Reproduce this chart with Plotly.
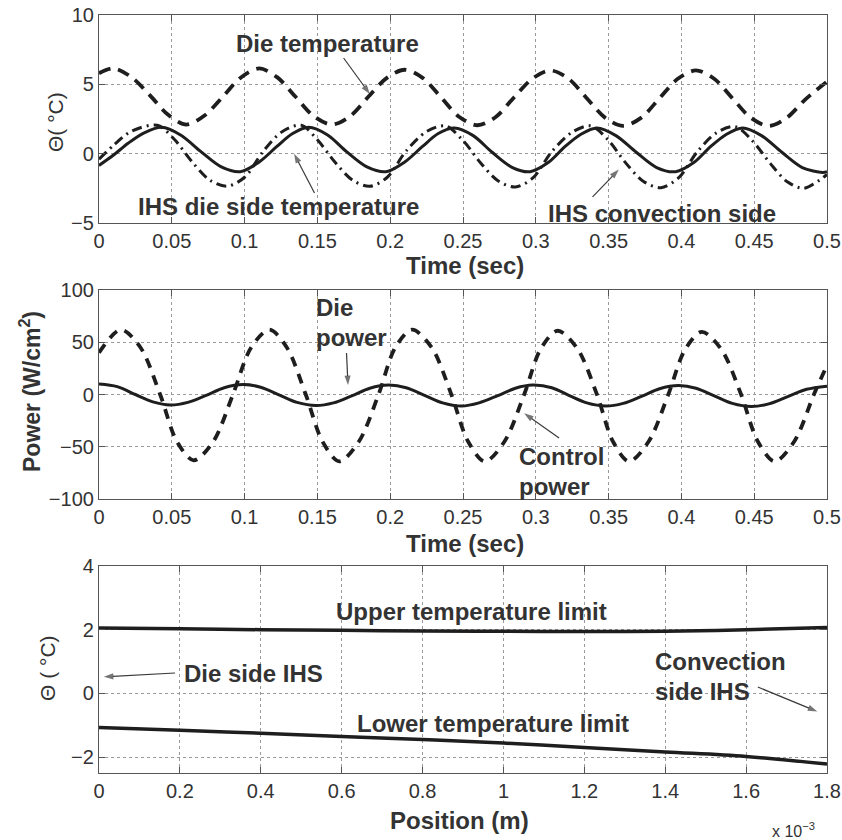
import plotly.graph_objects as go

# ---------------- data: panel 1 (temperatures vs time) ----------------
die_t = [0, 0.01, 0.0225, 0.035, 0.0475, 0.06, 0.0725, 0.085, 0.0975, 0.11, 0.1225, 0.135, 0.1475,
         0.16, 0.1725, 0.185, 0.1975, 0.21, 0.2225, 0.235, 0.2475, 0.26, 0.2725, 0.285, 0.2975,
         0.31, 0.3225, 0.335, 0.3475, 0.36, 0.3725, 0.385, 0.3975, 0.41, 0.4225, 0.435, 0.4475,
         0.46, 0.4725, 0.485, 0.5]
die_temp = [5.8, 6.15, 5.5, 4.2, 2.8, 2.1, 2.75, 4.1, 5.5, 6.15, 5.5, 4.1, 2.7,
            2.1, 2.7, 4.1, 5.45, 6.05, 5.45, 4.05, 2.65, 2.05, 2.65, 4.05, 5.4,
            6.0, 5.4, 4.0, 2.6, 2.0, 2.6, 4.0, 5.4, 6.0, 5.4, 4.0, 2.6,
            2.0, 2.6, 3.9, 5.2]

ihs_die_t = [0, 0.01, 0.02, 0.031, 0.043, 0.056, 0.07, 0.084, 0.097, 0.11, 0.122, 0.133, 0.144,
             0.157, 0.17, 0.184, 0.197, 0.21, 0.222, 0.233, 0.244, 0.257, 0.27, 0.284, 0.296,
             0.309, 0.32, 0.331, 0.342, 0.355, 0.369, 0.383, 0.396, 0.409, 0.42, 0.431, 0.442,
             0.455, 0.469, 0.483, 0.497, 0.5]
ihs_die_temp = [-0.85, -0.1, 0.75, 1.5, 1.9, 1.35, 0.15, -0.95, -1.3, -0.6, 0.5, 1.45, 1.9,
                1.35, 0.15, -0.95, -1.3, -0.6, 0.5, 1.45, 1.85, 1.3, 0.1, -1.0, -1.3,
                -0.6, 0.5, 1.4, 1.85, 1.3, 0.1, -1.0, -1.3, -0.6, 0.5, 1.4, 1.85,
                1.3, 0.1, -1.0, -1.35, -1.3]

ihs_conv_t = [0, 0.011, 0.022, 0.04, 0.052, 0.064, 0.076, 0.088, 0.1, 0.113, 0.126, 0.139, 0.15,
              0.162, 0.174, 0.186, 0.198, 0.211, 0.225, 0.238, 0.25, 0.262, 0.274, 0.286, 0.298,
              0.311, 0.325, 0.338, 0.35, 0.362, 0.374, 0.386, 0.398, 0.411, 0.424, 0.437, 0.449,
              0.461, 0.473, 0.484, 0.495, 0.5]
ihs_conv_temp = [-0.4, 0.7, 1.6, 2.05, 1.0, -0.6, -1.9, -2.35, -1.7, 0.2, 1.6, 2.05, 1.0,
                 -0.6, -1.9, -2.35, -1.7, 0.2, 1.6, 2.0, 0.95, -0.65, -1.95, -2.4, -1.75,
                 0.15, 1.55, 2.0, 0.95, -0.7, -2.0, -2.45, -1.75, 0.15, 1.5, 1.95, 0.9,
                 -0.7, -2.05, -2.5, -1.9, -1.5]

# ---------------- data: panel 2 (power vs time) ----------------
die_pow_t = [0, 0.0125, 0.025, 0.037, 0.049, 0.061, 0.074, 0.086, 0.099, 0.111, 0.124, 0.136, 0.149,
             0.161, 0.174, 0.186, 0.199, 0.211, 0.224, 0.236, 0.249, 0.261, 0.274, 0.286, 0.298,
             0.311, 0.323, 0.335, 0.348, 0.36, 0.373, 0.385, 0.398, 0.41, 0.423, 0.435, 0.448,
             0.46, 0.473, 0.486, 0.5]
die_power = [10, 7.5, 0, -7, -10, -7.5, -0.5, 6.5, 9.5, 7, -0.5, -7.5, -10.5,
             -8, -1, 6, 9, 6.5, -1, -8, -11, -8, -1, 6, 9,
             6.5, -1, -8, -11, -8.5, -1.5, 5.5, 8.5, 6, -1.5, -8.5, -11.5,
             -9, -2, 5, 8]

ctrl_t = [0, 0.015, 0.0285, 0.042, 0.0535, 0.065, 0.0785, 0.092, 0.1045, 0.117, 0.129, 0.142, 0.1535,
          0.165, 0.1785, 0.192, 0.2035, 0.215, 0.2285, 0.242, 0.2535, 0.265, 0.2785, 0.292, 0.3035,
          0.315, 0.3285, 0.342, 0.353, 0.364, 0.3775, 0.391, 0.4025, 0.414, 0.4275, 0.441, 0.4525,
          0.464, 0.4775, 0.491, 0.5]
ctrl_power = [40, 62, 45, 0, -45, -63, -45, 0, 45, 62, 45, 0, -45,
              -64, -45, 0, 45, 62, 45, 0, -45, -64, -45, 0, 44,
              61, 44, 0, -45, -64, -45, 0, 43, 60, 43, 0, -45,
              -64, -45, 0, 28]

# ---------------- data: panel 3 (temperature limits vs position) ----------------
position = [0, 0.2e-3, 0.4e-3, 0.6e-3, 0.8e-3, 1.0e-3, 1.2e-3, 1.4e-3, 1.6e-3, 1.8e-3]
upper_limit = [2.05, 2.03, 2.0, 1.98, 1.96, 1.95, 1.94, 1.95, 2.0, 2.07]
lower_limit = [-1.07, -1.16, -1.25, -1.35, -1.45, -1.56, -1.7, -1.84, -1.98, -2.22]

time_ticks = [0, 0.05, 0.1, 0.15, 0.2, 0.25, 0.3, 0.35, 0.4, 0.45, 0.5]
time_labels = ["0", "0.05", "0.1", "0.15", "0.2", "0.25", "0.3", "0.35", "0.4", "0.45", "0.5"]
pos_ticks = [0, 0.2e-3, 0.4e-3, 0.6e-3, 0.8e-3, 1.0e-3, 1.2e-3, 1.4e-3, 1.6e-3, 1.8e-3]
pos_labels = ["0", "0.2", "0.4", "0.6", "0.8", "1", "1.2", "1.4", "1.6", "1.8"]

LINE = "#1e1e1e"
TXT = "#333333"
FONT = "Liberation Sans, Arial, sans-serif"

fig = go.Figure()

# panel 1
fig.add_trace(go.Scatter(x=die_t, y=die_temp, mode="lines", xaxis="x", yaxis="y", hoverinfo="skip",
                         line=dict(color=LINE, width=3.8, dash="12px,8px", shape="spline", smoothing=0.9)))
fig.add_trace(go.Scatter(x=ihs_conv_t, y=ihs_conv_temp, mode="lines", xaxis="x", yaxis="y", hoverinfo="skip",
                         line=dict(color=LINE, width=3, dash="10px,5px,2px,5px", shape="spline", smoothing=0.9)))
fig.add_trace(go.Scatter(x=ihs_die_t, y=ihs_die_temp, mode="lines", xaxis="x", yaxis="y", hoverinfo="skip",
                         line=dict(color=LINE, width=3, shape="spline", smoothing=0.9)))
# panel 2
fig.add_trace(go.Scatter(x=ctrl_t, y=ctrl_power, mode="lines", xaxis="x2", yaxis="y2", hoverinfo="skip",
                         line=dict(color=LINE, width=3.8, dash="10px,8px", shape="spline", smoothing=0.9)))
fig.add_trace(go.Scatter(x=die_pow_t, y=die_power, mode="lines", xaxis="x2", yaxis="y2", hoverinfo="skip",
                         line=dict(color=LINE, width=3, shape="spline", smoothing=0.9)))
# panel 3
fig.add_trace(go.Scatter(x=position, y=upper_limit, mode="lines", xaxis="x3", yaxis="y3", hoverinfo="skip",
                         line=dict(color=LINE, width=3.5, shape="spline")))
fig.add_trace(go.Scatter(x=position, y=lower_limit, mode="lines", xaxis="x3", yaxis="y3", hoverinfo="skip",
                         line=dict(color=LINE, width=3.5, shape="spline")))


def arrow(xh, yh, xt, yt, xa, ya):
    """thin pointer line from a label (tail) to a curve (head), with an arrow head marker"""
    fig.add_trace(go.Scatter(x=[xt, xh], y=[yt, yh], mode="lines+markers", xaxis=xa, yaxis=ya,
                             hoverinfo="skip", line=dict(color="#3a3a3a", width=1.2),
                             marker=dict(symbol="arrow", size=[0, 10], angleref="previous",
                                         color="#3a3a3a", line=dict(width=0))))


# pointer arrows (head point, tail point)
arrow(0.186, 4.3, 0.168, 6.9, "x", "y")
arrow(0.134, 0.0, 0.148, -2.83, "x", "y")
arrow(0.357, -1.15, 0.339, -3.12, "x", "y")
arrow(0.171, 9.0, 0.170, 39.7, "x2", "y2")
arrow(0.292, -18.0, 0.316, -41.6, "x2", "y2")
arrow(0.012e-3, 0.52, 0.188e-3, 0.64, "x3", "y3")
arrow(1.776e-3, -0.57, 1.629e-3, 0.2, "x3", "y3")

XD = [99 / 842, 827 / 842]
common_ax = dict(showline=True, linecolor="#555555", linewidth=1.2, mirror="ticks", ticks="inside",
                 ticklen=6, tickcolor="#555555", showgrid=True, gridcolor="#9a9a9a", griddash="dot",
                 gridwidth=1, zeroline=False, tickfont=dict(size=20, color=TXT, family=FONT),
                 automargin=False)

fig.update_layout(
    width=842, height=840, paper_bgcolor="white", plot_bgcolor="white",
    margin=dict(l=0, r=0, t=0, b=0), showlegend=False,
    font=dict(family=FONT, color=TXT),
    xaxis=dict(domain=XD, range=[0, 0.5], tickvals=time_ticks, ticktext=time_labels, anchor="y", **common_ax),
    yaxis=dict(domain=[1 - 223 / 840, 1 - 15 / 840], range=[-5, 10], tickvals=[-5, 0, 5, 10], anchor="x", **common_ax),
    xaxis2=dict(domain=XD, range=[0, 0.5], tickvals=time_ticks, ticktext=time_labels, anchor="y2", **common_ax),
    yaxis2=dict(domain=[1 - 499 / 840, 1 - 290 / 840], range=[-100, 100], tickvals=[-100, -50, 0, 50, 100], anchor="x2", **common_ax),
    xaxis3=dict(domain=XD, range=[0, 1.8e-3], tickvals=pos_ticks, ticktext=pos_labels, anchor="y3", **common_ax),
    yaxis3=dict(domain=[1 - 773 / 840, 1 - 566 / 840], range=[-2.5, 4], tickvals=[-2, 0, 2, 4], anchor="x3", **common_ax),
)

B = dict(family=FONT, size=24, color=TXT)
ann = []


def txt(x, y, s, xr, yr, xanchor="center", font=B):
    ann.append(dict(x=x, y=y, xref=xr, yref=yr, text=s, showarrow=False, xanchor=xanchor,
                    yanchor="middle", font=font))


# panel 1 labels
txt(0.157, 7.98, "<b>Die temperature</b>", "x", "y")
txt(0.123, -3.84, "<b>IHS die side temperature</b>", "x", "y")
txt(0.387, -4.28, "<b>IHS convection side</b>", "x", "y")
# panel 2 labels (two lines each)
txt(0.148, 82.8, "<b>Die</b>", "x2", "y2", xanchor="left")
txt(0.148, 54.1, "<b>power</b>", "x2", "y2", xanchor="left")
txt(0.287, -59.8, "<b>Control</b>", "x2", "y2", xanchor="left")
txt(0.287, -88.5, "<b>power</b>", "x2", "y2", xanchor="left")
# panel 3 labels
txt(0.92e-3, 2.56, "<b>Upper temperature limit</b>", "x3", "y3")
txt(0.205e-3, 0.64, "<b>Die side IHS</b>", "x3", "y3", xanchor="left")
txt(0.974e-3, -0.93, "<b>Lower temperature limit</b>", "x3", "y3")
txt(1.370e-3, 0.986, "<b>Convection</b>", "x3", "y3", xanchor="left")
txt(1.370e-3, 0.044, "<b>side IHS</b>", "x3", "y3", xanchor="left")

# axis titles
R = dict(family=FONT, size=21, color=TXT)
ann.append(dict(x=55 / 842, y=1 - 122 / 840, xref="paper", yref="paper", text="Θ( °C)", showarrow=False,
                textangle=-90, font=R, xanchor="center", yanchor="middle"))
ann.append(dict(x=30 / 842, y=1 - 392 / 840, xref="paper", yref="paper", text="<b>Power (W/cm<sup>2</sup>)</b>",
                showarrow=False, textangle=-90, font=dict(family=FONT, size=23, color=TXT),
                xanchor="center", yanchor="middle"))
ann.append(dict(x=47 / 842, y=1 - 668 / 840, xref="paper", yref="paper", text="Θ ( °C)", showarrow=False,
                textangle=-90, font=R, xanchor="center", yanchor="middle"))
ann.append(dict(x=465 / 842, y=1 - 265 / 840, xref="paper", yref="paper", text="<b>Time (sec)</b>",
                showarrow=False, font=B, xanchor="center", yanchor="middle"))
ann.append(dict(x=465 / 842, y=1 - 543 / 840, xref="paper", yref="paper", text="<b>Time (sec)</b>",
                showarrow=False, font=B, xanchor="center", yanchor="middle"))
ann.append(dict(x=459 / 842, y=1 - 820 / 840, xref="paper", yref="paper", text="<b>Position (m)</b>",
                showarrow=False, font=B, xanchor="center", yanchor="middle"))
ann.append(dict(x=793 / 842, y=1 - 830 / 840, xref="paper", yref="paper", text="x 10<sup>−3</sup>",
                showarrow=False, font=dict(family=FONT, size=16, color=TXT), xanchor="center", yanchor="middle"))

fig.update_layout(annotations=ann)
fig.write_html("out.html")
